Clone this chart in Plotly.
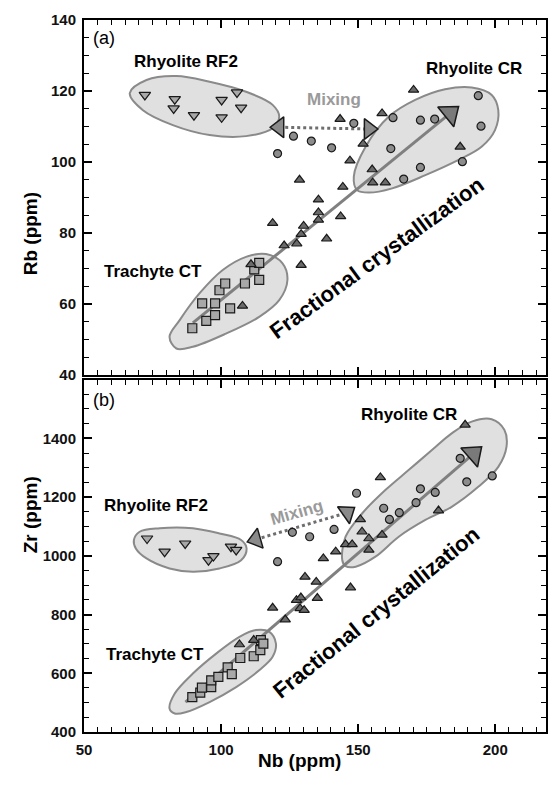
import plotly.graph_objects as go

# ---------------- Panel (a): Nb vs Rb ----------------
rf2_a_nb = [72.2, 83.1, 82.7, 90.1, 100.2, 105.8, 107.3, 100.2]
rf2_a_rb = [118.9, 117.7, 115.1, 113.2, 117.5, 119.6, 115.3, 112.6]

ct_a_nb = [89.5, 94.6, 97.8, 93.1, 97.8, 103.3, 99.4, 101.5, 108.7, 113.9, 112.1, 113.9]
ct_a_rb = [53.2, 55.3, 56.9, 60.2, 60.2, 58.8, 63.9, 65.8, 65.8, 66.8, 69.8, 71.6]

cr_a_nb = [120.6, 126.4, 132.9, 140.3, 148.4, 162.7, 172.7, 177.9, 193.8, 194.8, 161.9, 172.7, 166.6, 188.0]
cr_a_rb = [102.4, 107.3, 105.9, 104.0, 110.9, 112.5, 111.8, 112.1, 118.7, 110.1, 103.8, 98.5, 95.2, 100.1]

mid_a_nb = [107.8, 110.9, 118.8, 123.0, 127.6, 129.2, 130.1, 129.2, 128.6, 135.5, 135.5, 135.5,
            143.6, 138.5, 144.4, 147.0, 151.8, 143.4, 158.7, 170.2, 155.1, 155.3, 159.9, 187.2]
mid_a_rb = [59.5, 71.2, 82.8, 76.5, 77.0, 79.7, 82.0, 71.0, 95.0, 89.4, 85.8, 83.7,
            84.7, 78.4, 93.0, 100.4, 105.1, 112.1, 113.7, 120.3, 97.9, 94.2, 94.2, 104.3]

# envelopes (a)
env_rf2_a_nb = [66.7, 72.8, 83.7, 95.8, 109.1, 118.8, 121.2, 118.8, 109.1, 95.8, 82.4, 71.5, 66.7]
env_rf2_a_rb = [119.4, 123.1, 124.2, 122.6, 119.8, 116.1, 112.8, 109.5, 107.3, 107.6, 110.4, 114.6, 119.4]
env_ct_a_nb = [81.2, 84.9, 92.1, 100.6, 109.1, 116.4, 122.4, 124.2, 121.2, 113.9, 101.8, 89.7, 83.7, 81.2]
env_ct_a_rb = [50.8, 55.5, 63.0, 69.6, 73.3, 74.1, 71.5, 66.8, 61.1, 56.4, 51.7, 48.0, 47.5, 50.8]
env_cr_a_nb = [148.4, 152.7, 161.2, 170.8, 181.7, 191.4, 198.7, 201.1, 199.9, 195.0, 186.6, 174.5, 162.4, 153.9, 149.6, 148.4]
env_cr_a_rb = [95.9, 104.3, 112.8, 117.5, 120.5, 121.0, 118.9, 114.6, 109.0, 104.3, 100.6, 96.3, 92.6, 91.4, 92.1, 95.9]

# arrows (a)
fc_a_nb = [89.7, 183.5]
fc_a_rb = [54.7, 113.7]
mix_a_nb = [121.2, 153.9]
mix_a_rb = [109.8, 109.3]

# ---------------- Panel (b): Nb vs Zr ----------------
rf2_b_nb = [73.0, 79.4, 86.9, 95.4, 97.2, 103.6, 105.5]
rf2_b_zr = [1059, 1014, 1042, 985, 999, 1031, 1020]

ct_b_nb = [89.5, 92.4, 93.0, 96.4, 96.4, 99.0, 102.4, 103.9, 107.0, 111.9, 114.5, 114.3, 115.4]
ct_b_zr = [519, 534, 551, 553, 576, 588, 620, 597, 652, 658, 713, 679, 701]

cr_b_nb = [120.6, 126.0, 132.3, 141.2, 149.4, 159.3, 161.4, 165.0, 171.1, 172.7, 178.1, 187.2, 189.6, 198.9]
cr_b_zr = [980, 1080, 1065, 1090, 1213, 1162, 1124, 1147, 1181, 1228, 1216, 1332, 1252, 1272]

mid_b_nb = [106.7, 111.9, 118.8, 123.4, 127.5, 129.1, 128.8, 130.3, 130.6, 134.7, 135.1, 137.3,
            141.8, 145.4, 147.8, 147.2, 150.8, 151.4, 153.9, 153.9, 158.7, 158.1, 179.3, 189.0]
mid_b_zr = [698, 713, 823, 783, 849, 858, 821, 815, 928, 911, 856, 991,
            1014, 1039, 1039, 892, 1124, 1082, 1059, 1020, 1071, 1267, 1154, 1446]

# envelopes (b)
env_rf2_b_nb = [68.2, 70.3, 77.6, 89.7, 99.4, 107.3, 109.3, 107.3, 99.4, 89.7, 81.2, 72.8, 68.9, 68.2]
env_rf2_b_zr = [1054, 1082, 1094, 1094, 1076, 1054, 1025, 985, 957, 946, 957, 991, 1025, 1054]
env_ct_b_nb = [81.2, 83.1, 89.7, 98.2, 106.7, 112.7, 117.6, 120.0, 118.8, 113.9, 105.5, 95.8, 87.3, 83.1, 81.2]
env_ct_b_zr = [480, 531, 599, 667, 724, 747, 741, 701, 656, 610, 553, 502, 468, 463, 480]
env_cr_b_nb = [144.2, 145.4, 151.5, 159.9, 168.4, 176.9, 184.1, 191.4, 198.7, 203.3, 204.1, 201.1,
               193.8, 184.1, 174.5, 164.8, 156.3, 149.1, 145.4, 144.2]
env_cr_b_zr = [985, 1065, 1145, 1224, 1292, 1360, 1417, 1457, 1465, 1429, 1372, 1303,
               1235, 1167, 1122, 1065, 997, 963, 965, 985]

# arrows (b)
fc_b_nb = [87.0, 192.0]
fc_b_zr = [502, 1347]
mix_b_nb = [112.7, 146.0]
mix_b_zr = [1056, 1147]

FONT = "Liberation Sans, Arial, Helvetica, sans-serif"
ENV_FILL = "rgba(224,224,224,1)"
ENV_LINE = "#8a8a8a"
EDGE = "#1a1a1a"

fig = go.Figure()


def add_panel(xa, ya, rf2, ct, cr, mid, envs, fc, mix, mix_angles, mix_syms, fc_angle):
    for ex, ey in envs:
        fig.add_trace(go.Scatter(x=ex, y=ey, mode="lines", line=dict(color=ENV_LINE, width=2, shape="spline", smoothing=1.0),
                                 fill="toself", fillcolor=ENV_FILL, xaxis=xa, yaxis=ya, hoverinfo="skip", showlegend=False))
    fig.add_trace(go.Scatter(x=fc[0], y=fc[1], mode="lines", line=dict(color="#808080", width=3),
                             xaxis=xa, yaxis=ya, showlegend=False, hoverinfo="skip"))
    fig.add_trace(go.Scatter(x=mix[0], y=mix[1], mode="lines", line=dict(color="#6e6e6e", width=3, dash="dot"),
                             xaxis=xa, yaxis=ya, showlegend=False, hoverinfo="skip"))
    fig.add_trace(go.Scatter(x=rf2[0], y=rf2[1], mode="markers",
                             marker=dict(symbol="triangle-down", size=10, color="#a8a8a8", line=dict(color=EDGE, width=1.2)),
                             xaxis=xa, yaxis=ya, showlegend=False))
    fig.add_trace(go.Scatter(x=ct[0], y=ct[1], mode="markers",
                             marker=dict(symbol="square", size=9, color="#a8a8a8", line=dict(color=EDGE, width=1.2)),
                             xaxis=xa, yaxis=ya, showlegend=False))
    fig.add_trace(go.Scatter(x=cr[0], y=cr[1], mode="markers",
                             marker=dict(symbol="circle", size=8, color="#8c8c8c", line=dict(color=EDGE, width=1.2)),
                             xaxis=xa, yaxis=ya, showlegend=False))
    fig.add_trace(go.Scatter(x=mid[0], y=mid[1], mode="markers",
                             marker=dict(symbol="triangle-up", size=9, color="#6a6a6a", line=dict(color=EDGE, width=1.2)),
                             xaxis=xa, yaxis=ya, showlegend=False))
    fig.add_trace(go.Scatter(x=mix[0], y=mix[1], mode="markers",
                             marker=dict(symbol=mix_syms, size=18, angle=mix_angles, color="#8a8a8a",
                                         line=dict(color=EDGE, width=1.5)),
                             xaxis=xa, yaxis=ya, showlegend=False))
    fig.add_trace(go.Scatter(x=[fc[0][1]], y=[fc[1][1]], mode="markers",
                             marker=dict(symbol="triangle-up", size=22, angle=fc_angle, color="#7a7a7a",
                                         line=dict(color=EDGE, width=1.5)),
                             xaxis=xa, yaxis=ya, showlegend=False))


add_panel("x", "y", (rf2_a_nb, rf2_a_rb), (ct_a_nb, ct_a_rb), (cr_a_nb, cr_a_rb), (mid_a_nb, mid_a_rb),
          [(env_rf2_a_nb, env_rf2_a_rb), (env_ct_a_nb, env_ct_a_rb), (env_cr_a_nb, env_cr_a_rb)],
          (fc_a_nb, fc_a_rb), (mix_a_nb, mix_a_rb), [0, 0], ["triangle-left", "triangle-right"], 51)
add_panel("x2", "y2", (rf2_b_nb, rf2_b_zr), (ct_b_nb, ct_b_zr), (cr_b_nb, cr_b_zr), (mid_b_nb, mid_b_zr),
          [(env_rf2_b_nb, env_rf2_b_zr), (env_ct_b_nb, env_ct_b_zr), (env_cr_b_nb, env_cr_b_zr)],
          (fc_b_nb, fc_b_zr), (mix_b_nb, mix_b_zr), [-16, 55], ["triangle-left", "triangle-up"], 49)

axis_common = dict(showgrid=False, zeroline=False, showline=True, linecolor="black", linewidth=2,
                   mirror="allticks", ticks="inside", ticklen=8, tickwidth=1.5, tickcolor="black",
                   tickfont=dict(family=FONT, size=15, color="#111", weight="bold"))
minor_x = dict(dtick=5, tick0=50, ticklen=5, ticks="inside", tickcolor="black", tickwidth=1.2)

x_range = [50, 218.5]
fig.update_layout(
    width=548, height=787,
    margin=dict(l=84, r=0, t=20, b=55),
    paper_bgcolor="white", plot_bgcolor="white",
    showlegend=False,
    xaxis=dict(**axis_common, range=x_range, domain=[0, 1], anchor="y", showticklabels=False,
               tickvals=[50, 100, 150, 200], minor=minor_x),
    yaxis=dict(**axis_common, range=[40, 140], domain=[0.5012, 1], anchor="x", ticklabelstandoff=3,
               tickvals=[40, 60, 80, 100, 120, 140],
               minor=dict(dtick=5, tick0=40, ticklen=5, ticks="inside", tickcolor="black", tickwidth=1.2)),
    xaxis2=dict(**axis_common, range=x_range, domain=[0, 1], anchor="y2",
                tickvals=[50, 100, 150, 200], ticklabelstandoff=3, minor=minor_x),
    yaxis2=dict(**axis_common, range=[400, 1600], domain=[0, 0.4949], anchor="x2", ticklabelstandoff=3,
                tickvals=[400, 600, 800, 1000, 1200, 1400],
                minor=dict(dtick=50, tick0=400, ticklen=5, ticks="inside", tickcolor="black", tickwidth=1.2)),
)


def txt(x, y, s, xr="x", yr="y", size=17, color="black", angle=0, xanchor="center", bold=True):
    fig.add_annotation(x=x, y=y, xref=xr, yref=yr, text=s, showarrow=False, textangle=angle, xanchor=xanchor,
                       font=dict(family=FONT, size=size, color=color, weight="bold" if bold else "normal"))


# panel (a) labels
txt(52.5, 134.8, "(a)", size=18, xanchor="left", bold=False)
txt(87.3, 128.3, "Rhyolite RF2")
txt(192.4, 126.4, "Rhyolite CR")
txt(141.2, 117.5, "Mixing", color="#9a9a9a")
txt(75.2, 69.1, "Trachyte CT")
txt(157.0, 73.0, "Fractional crystallization", size=22, angle=-36)
# panel (b) labels
txt(52.5, 1531, "(b)", xr="x2", yr="y2", size=18, xanchor="left", bold=False)
txt(168.4, 1480, "Rhyolite CR", xr="x2", yr="y2")
txt(76.4, 1173, "Rhyolite RF2", xr="x2", yr="y2")
txt(127.7, 1146, "Mixing", xr="x2", yr="y2", color="#9a9a9a", angle=-16)
txt(75.8, 665, "Trachyte CT", xr="x2", yr="y2")
txt(156.5, 808, "Fractional crystallization", xr="x2", yr="y2", size=22, angle=-39)

# axis titles (positioned in pixel terms, converted to paper coordinates)
H = 787 - 20 - 55
W = 548 - 84


def px2paper(px, py):
    return (px - 84) / W, (787 - 55 - py) / H


for label, (px, py), ang in [("Rb (ppm)", (18, 190), -90), ("Zr (ppm)", (18, 555), -90), ("Nb (ppm)", (300, 773), 0)]:
    xp, yp = px2paper(px, py)
    fig.add_annotation(x=xp, y=yp, xref="paper", yref="paper", text=label, showarrow=False, textangle=ang,
                       font=dict(family=FONT, size=19, color="black", weight="bold"))

fig.write_html("out.html")
